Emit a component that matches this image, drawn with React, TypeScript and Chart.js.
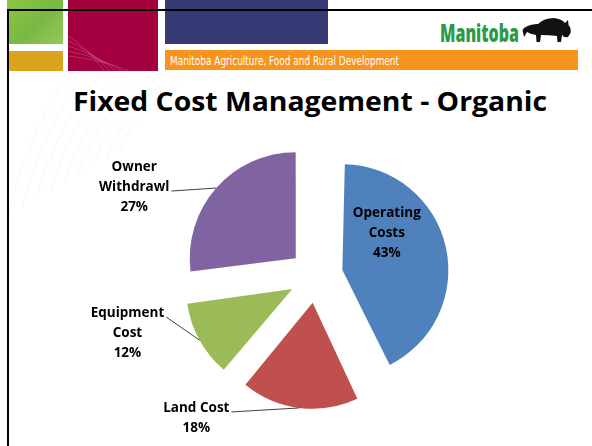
import React, { useEffect, useLayoutEffect, useRef } from "react";
import { Chart, registerables } from "chart.js";

Chart.register(...registerables);

// ---- data ----
const categories = ["Operating Costs", "Land Cost", "Equipment Cost", "Owner Withdrawl"];
const values = [43, 18, 12, 27];
const sliceColors = ["#4f81bd", "#c0504d", "#9bbb59", "#8064a2"];
const titleText = "Fixed Cost Management - Organic";
const departmentText = "Manitoba Agriculture, Food and Rural Development";
const brandText = "Manitoba";

// ---- layout (not data) ----
const RADIUS = 106;
const EXPLODE = 27; // px each slice is pulled out
const LABEL_FONT = "bold 13.5px 'Open Sans', 'DejaVu Sans', sans-serif";
const LINE_H = 20;
const WRAP_WIDTH = 86;
// label block centre relative to the slice's outer mid-point
const labelLayout = [
  { dx: -59, dy: -14, leader: false },
  { dx: -103, dy: 10, leader: true },
  { dx: -72, dy: -7, leader: true },
  { dx: -82, dy: -1, leader: true },
];

function wrapWords(ctx: CanvasRenderingContext2D, text: string, maxW: number): string[] {
  const words = text.split(" ");
  const lines: string[] = [];
  let cur = "";
  for (const w of words) {
    const test = cur ? cur + " " + w : w;
    if (cur && ctx.measureText(test).width > maxW) {
      lines.push(cur);
      cur = w;
    } else cur = test;
  }
  if (cur) lines.push(cur);
  return lines;
}

// keep every exploded slice at the same radius (Chart.js enlarges offset arcs)
const radiusFixPlugin = {
  id: "radiusFix",
  afterDatasetUpdate(chart: any, args: any) {
    const meta = args.meta;
    meta.data.forEach((arc: any) => {
      const off = (arc.options?.offset || 0) / 4;
      const fix = 1 - Math.sin(Math.min(Math.PI, arc.circumference || 0));
      arc.outerRadius = RADIUS - off * fix;
    });
  },
};

const labelPlugin = {
  id: "sliceLabels",
  afterDatasetsDraw(chart: any) {
    const ctx: CanvasRenderingContext2D = chart.ctx;
    const meta = chart.getDatasetMeta(0);
    const total = values.reduce((a, b) => a + b, 0);
    ctx.save();
    ctx.font = LABEL_FONT;
    ctx.textAlign = "center";
    ctx.textBaseline = "middle";
    meta.data.forEach((arc: any, i: number) => {
      const { x, y, startAngle, endAngle } = arc.getProps(["x", "y", "startAngle", "endAngle"], true);
      const mid = (startAngle + endAngle) / 2;
      const cx = x + Math.cos(mid) * EXPLODE;
      const cy = y + Math.sin(mid) * EXPLODE;
      const ax = cx + Math.cos(mid) * RADIUS;
      const ay = cy + Math.sin(mid) * RADIUS;
      const lay = labelLayout[i];
      const lines = wrapWords(ctx, categories[i], WRAP_WIDTH);
      lines.push(Math.round((values[i] / total) * 100) + "%");
      const bx = ax + lay.dx;
      const by = ay + lay.dy;
      const n = lines.length;
      let widest = 0;
      let widestW = 0;
      lines.forEach((ln, k) => {
        const w = ctx.measureText(ln).width;
        if (w > widestW) {
          widestW = w;
          widest = k;
        }
      });
      if (lay.leader) {
        const ly = by + (widest - (n - 1) / 2) * LINE_H + 4;
        const lx = bx + widestW / 2 + 2;
        ctx.strokeStyle = "#404040";
        ctx.lineWidth = 1;
        ctx.beginPath();
        ctx.moveTo(lx, ly);
        ctx.lineTo(ax, ay);
        ctx.stroke();
      }
      ctx.fillStyle = "#000000";
      lines.forEach((ln, k) => {
        ctx.fillText(ln, bx, by + (k - (n - 1) / 2) * LINE_H);
      });
    });
    ctx.restore();
  },
};

function FitText({ text, width, style }: { text: string; width: number; style: React.CSSProperties }) {
  const ref = useRef<HTMLSpanElement>(null);
  useLayoutEffect(() => {
    const el = ref.current;
    if (!el) return;
    el.style.transform = "none";
    const w = el.getBoundingClientRect().width;
    if (w > 0) el.style.transform = `scaleX(${width / w})`;
  }, [text, width]);
  return (
    <span
      ref={ref}
      style={{ position: "absolute", whiteSpace: "nowrap", transformOrigin: "0 0", lineHeight: 1, ...style }}
    >
      {text}
    </span>
  );
}

function Bison() {
  return (
    <svg
      width={50}
      height={28}
      viewBox="0 0 50 28"
      style={{ position: "absolute", left: 522, top: 17 }}
    >
      <path
        d="M2,11 Q8,7 16,7 Q22,1 32,1 Q40,2 43,6 L46,3 L46.5,8 Q49.5,11 48.5,16 L46,20 Q42,21 40,18 L39,25 L35.5,25 L35,19 Q27,18 19,18 L18,25 L14.5,25 L14,18 Q8,17 5,15 L2,20 L0.5,13 Z"
        fill="#111"
      />
    </svg>
  );
}

export default function App() {
  const canvasRef = useRef<HTMLCanvasElement>(null);

  useEffect(() => {
    document.body.style.margin = "0";
    const canvas = canvasRef.current;
    if (!canvas) return;
    const chart = new Chart(canvas, {
      type: "pie",
      data: {
        labels: categories,
        datasets: [
          {
            data: values,
            backgroundColor: sliceColors,
            borderWidth: 0,
            offset: EXPLODE * 4,
            hoverOffset: 0,
          },
        ],
      },
      options: {
        responsive: false,
        animation: false,
        devicePixelRatio: 1,
        radius: RADIUS,
        layout: { padding: { left: 60, right: 20, top: 140, bottom: 34 } },
        plugins: {
          legend: { display: false },
          tooltip: { enabled: false },
        },
      } as any,
      plugins: [radiusFixPlugin, labelPlugin],
    });
    return () => chart.destroy();
  }, []);

  const arcs = [];
  for (let i = 0; i < 9; i++) {
    arcs.push(
      <path
        key={i}
        d={`M${8 + i * 14},${215 - i * 8} Q${30 + i * 14},${130 - i * 4} ${70 + i * 16},${72}`}
        stroke="#f8dcc3"
        strokeWidth={1}
        fill="none"
        opacity={0.28}
      />
    );
  }

  return (
    <div
      style={{
        position: "absolute",
        left: 0,
        top: 0,
        width: 592,
        height: 446,
        overflow: "hidden",
        background: "#ffffff",
        fontFamily: "'Open Sans', sans-serif",
      }}
    >
      <svg width={592} height={446} style={{ position: "absolute", left: 0, top: 0 }}>
        {arcs}
      </svg>
      {/* header blocks */}
      <div
        style={{
          position: "absolute",
          left: 7,
          top: 0,
          width: 56,
          height: 44,
          background: "linear-gradient(135deg, #8dc641 0%, #7ab844 55%, #95c95a 100%)",
        }}
      />
      <div style={{ position: "absolute", left: 7, top: 51, width: 56, height: 20, background: "#dca31c" }} />
      <div style={{ position: "absolute", left: 68, top: 0, width: 90, height: 71, background: "#a4003f", overflow: "hidden" }}>
        <svg width={90} height={71} style={{ position: "absolute", left: 0, top: 0 }}>
          {[0, 1, 2, 3, 4].map((k) => (
            <path
              key={k}
              d={`M0,${36 + k * 5} Q${20 + k * 4},${48 + k * 3} ${36 + k * 6},71`}
              stroke="rgba(255,255,255,0.18)"
              strokeWidth={1}
              fill="none"
            />
          ))}
        </svg>
      </div>
      <div style={{ position: "absolute", left: 165, top: 0, width: 163, height: 44, background: "#363b76" }} />
      <div style={{ position: "absolute", left: 165, top: 50, width: 413, height: 20, background: "#f7941d" }} />
      <FitText
        text={departmentText}
        width={229}
        style={{ left: 170, top: 54, fontSize: 13, color: "#ffffff", fontFamily: "'DejaVu Sans Condensed', 'Liberation Sans Narrow', sans-serif" }}
      />
      <FitText
        text={brandText}
        width={79}
        style={{ left: 440, top: 21, fontSize: 24, fontWeight: 800, color: "#2a9a48", fontFamily: "'Open Sans', sans-serif" }}
      />
      <Bison />
      {/* frame */}
      <div style={{ position: "absolute", left: 7, top: 9, width: 585, height: 2, background: "#000" }} />
      <div style={{ position: "absolute", left: 7, top: 9, width: 2, height: 437, background: "#000" }} />
      {/* title */}
      <FitText
        text={titleText}
        width={474}
        style={{ left: 73, top: 88, fontSize: 26, fontWeight: 700, color: "#000", fontFamily: "'Open Sans', sans-serif" }}
      />
      <canvas
        ref={canvasRef}
        width={592}
        height={446}
        style={{ position: "absolute", left: 0, top: 0, width: 592, height: 446 }}
      />
    </div>
  );
}
